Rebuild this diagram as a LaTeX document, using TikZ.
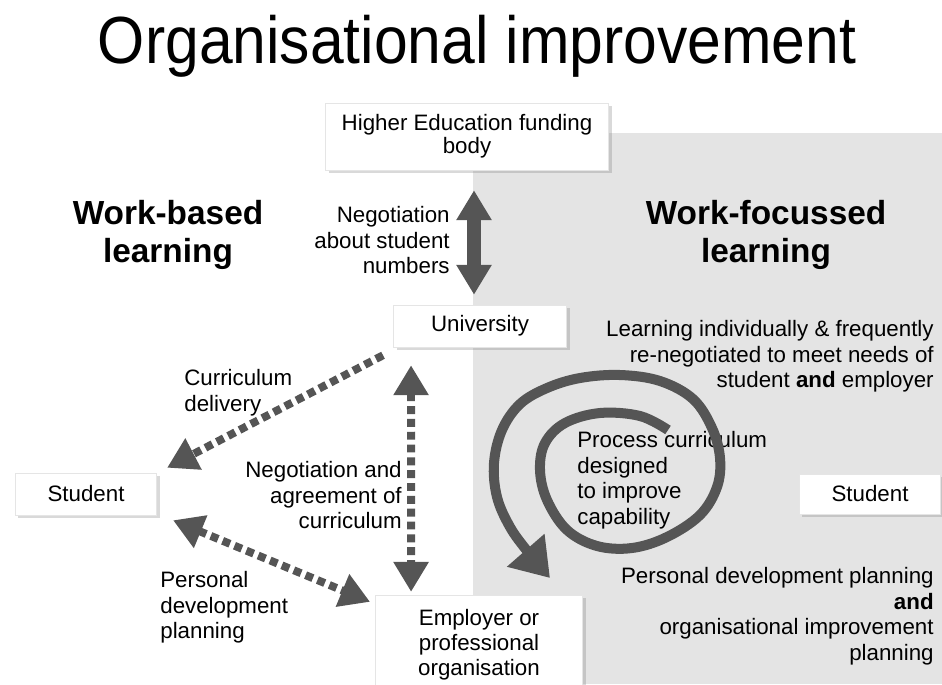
\documentclass[tikz,border=0pt]{standalone}
\usepackage{fontspec}
\setmainfont{Liberation Sans}
\usetikzlibrary{arrows.meta, calc, shadows}

\definecolor{bggrey}{HTML}{E4E4E4}
\definecolor{ink}{HTML}{555555}

\newcommand{\bodyfont}{\fontsize{12.7}{14.6}\selectfont}
\newcommand{\headfont}{\fontsize{19}{21.6}\selectfont\bfseries}

\begin{document}
\begin{tikzpicture}[
            x = 0.02cm, y = -0.02cm, % one unit is one pixel, y grows downwards
            > = {Triangle[length=17pt, width=19pt]}, % arrow head style
            font = \bodyfont,
            inner sep = 0pt
        ]

        \tikzstyle{box}=[
            fill = white,
            draw = black!10,
            align = center,
            drop shadow = {shadow xshift=1.8pt, shadow yshift=-1.8pt, opacity=0.3}
        ]
        \tikzstyle{dotarrow}=[
            draw = ink,
            line width = 4.5pt,
            dash pattern = on 4.5pt off 2.8pt
        ]

        \useasboundingbox (0,0) rectangle (942,684);
        \fill[bggrey] (473,133) rectangle (942,684);

        \node (title) at (477,63) [anchor=base, font=\fontsize{34.5}{40}\selectfont] {\scalebox{1}[1.1]{Organisational improvement}};

	% boxes
	\node[box, minimum width=161pt, minimum height=38pt, font=\fontsize{12.7}{13.2}\selectfont] (heb) at (467,136.5) {Higher Education funding\\body};
	\node[box, minimum width=98.6pt, minimum height=23.8pt] (uni) at (480,326) {University};
	\node[box, minimum width=80.5pt, minimum height=23.8pt] (stuL) at (86,494) {Student};
	\node[box, minimum width=80.5pt, minimum height=22.7pt] (stuR) at (870,494) {Student};
	\node[box, minimum width=117.9pt, minimum height=56.7pt, font=\fontsize{12.7}{14.2}\selectfont] (emp) at (479,645) {Employer or\\professional\\organisation};

	% texts
	\node[align=center, font=\headfont] (wbl) at (168,200) [anchor=north] {Work-based\\learning};
	\node[align=center, font=\headfont] (wfl) at (766,200) [anchor=north] {Work-focussed\\learning};
	\node[align=right] (negnum) at (450,206) [anchor=north east] {Negotiation\\about student\\numbers};
	\node[align=left] (delivery) at (184,369) [anchor=north west] {Curriculum\\delivery};
	\node[align=right] (agree) at (402,461) [anchor=north east] {Negotiation and\\agreement of\\curriculum};
	\node[align=left] (pdpL) at (160,571) [anchor=north west] {Personal\\development\\planning};
	\node[align=left] (process) at (577,431) [anchor=north west] {Process curriculum\\designed\\to improve\\capability};
	\node[align=right] (needs) at (934,320) [anchor=north east] {Learning individually \& frequently\\re-negotiated to meet needs of\\student \textbf{and} employer};
	\node[align=right] (pdpR) at (934,567) [anchor=north east] {Personal development planning\\\textbf{and}\\organisational improvement\\planning};

	% arrows
	\draw[ink, line width=7.5pt, <->] ($(heb.south)+(7,20)$) -- ($(uni.north)+(-6,-10)$);
	\draw[dotarrow, ->] ($(uni.south west)+(-10,8)$) -- ($(stuL.north east)+(10,-5)$);
	\draw[dotarrow, <->] ($(uni.south west)+(18,18)$) -- ($(emp.north west)+(36,-3)$);
	\draw[dotarrow, <->] ($(stuL.south east)+(16,5)$) -- ($(emp.north west)+(-5,7)$);

	% spiral
	\draw[ink, line width=5.7pt, -{Triangle[length=21pt, width=27pt]}]
	    plot[smooth, tension=0.6] coordinates {(668,430) (640,416) (600,413) (565,423) (545,443) (540,470) (547,500) (567,530) (597,546) (632,548) (667,537) (700,515) (717,487) (720,458) (712,428) (693,399) (660,381) (620,375) (580,378) (547,388) (520,404) (502,430) (494,463) (497,497) (510,527) (528,552) (550,578)};

    \end{tikzpicture}
\end{document}
